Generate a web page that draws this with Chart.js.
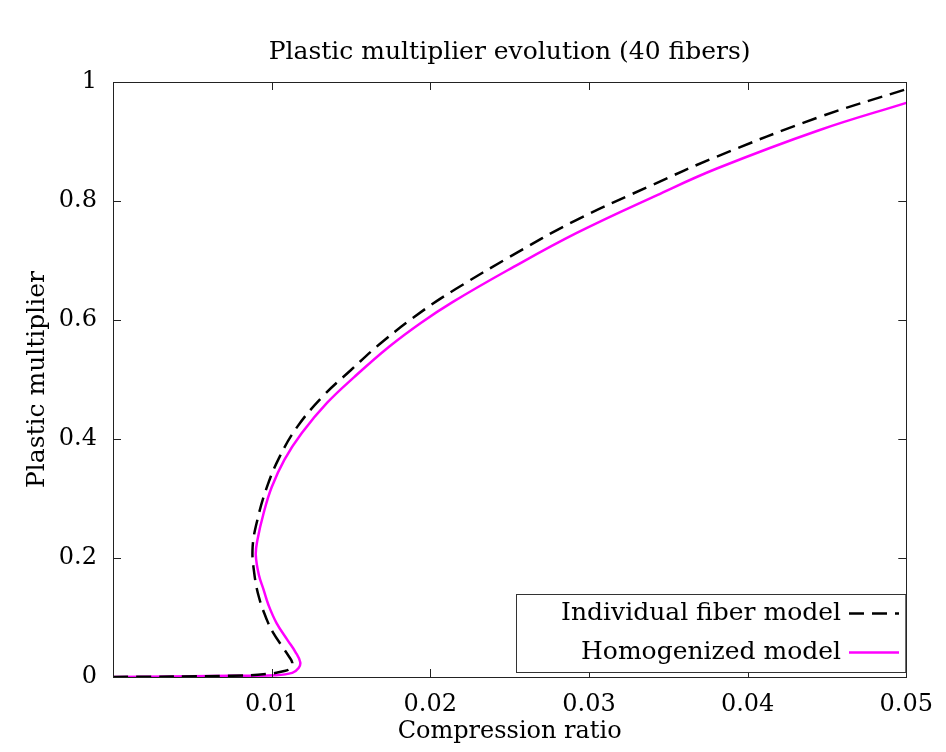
<!DOCTYPE html>
<html lang="en">
<head>
    <meta charset="UTF-8">
    <title>Plastic multiplier evolution</title>
    <script src="https://cdn.jsdelivr.net/npm/chart.js"></script>
    <style>
        html, body { margin: 0; padding: 0; background: #fff; }
        #wrap { width: 946px; height: 752px; }
    </style>
</head>
<body>
    <div id="wrap"><canvas id="plasticChart"></canvas></div>

    <script>
        // Curva del modelo de fibras individuales (punteada negra)
        const fiberX = [0, 0.0074, 0.0097, 0.0108, 0.0112, 0.0113, 0.0111, 0.0107, 0.0101, 0.0097, 0.0092, 0.0089, 0.0088, 0.0091,
                        0.0097, 0.0105, 0.0116, 0.0132, 0.0150, 0.0171, 0.0196, 0.0216, 0.0250, 0.0292, 0.0340, 0.0380, 0.0445, 0.0500];
        const fiberY = [0, 0.002, 0.005, 0.010, 0.015, 0.024, 0.034, 0.050, 0.074, 0.096, 0.134, 0.175, 0.218, 0.264,
                        0.319, 0.370, 0.420, 0.471, 0.516, 0.566, 0.617, 0.652, 0.706, 0.768, 0.827, 0.874, 0.941, 0.988];

        // Curva del modelo homogeneizado (magenta)
        const homogX = [0, 0.0074, 0.0102, 0.0113, 0.0117, 0.0118, 0.0115, 0.0110, 0.0103, 0.0098, 0.0095, 0.0092, 0.0090, 0.0091, 0.0095,
                        0.0100, 0.0108, 0.0119, 0.0135, 0.0152, 0.0174, 0.0194, 0.0214, 0.0249, 0.0292, 0.0343, 0.0381, 0.0445, 0.0500];
        const homogY = [0, 0.002, 0.003, 0.007, 0.015, 0.025, 0.042, 0.062, 0.091, 0.121, 0.146, 0.171, 0.205, 0.230, 0.276,
                        0.319, 0.365, 0.410, 0.461, 0.504, 0.555, 0.595, 0.630, 0.684, 0.746, 0.810, 0.855, 0.919, 0.965];

        const xTicks = [0.01, 0.02, 0.03, 0.04, 0.05];
        const yTicks = [0, 0.2, 0.4, 0.6, 0.8, 1];

        const FONT = "'DejaVu Serif', serif";
        const toPoints = (xs, ys) => xs.map((x, i) => ({ x: x, y: ys[i] }));

        // marco, ticks hacia adentro y leyenda dentro del area
        const framePlugin = {
            id: 'frame',
            afterDraw(chart) {
                const ctx = chart.ctx;
                const a = chart.chartArea;
                const xs = chart.scales.x, ys = chart.scales.y;
                const tl = 8;
                ctx.save();
                ctx.strokeStyle = '#222';
                ctx.lineWidth = 1;
                ctx.beginPath();
                xs.ticks.forEach(t => {
                    const px = Math.round(xs.getPixelForValue(t.value)) + 0.5;
                    ctx.moveTo(px, a.bottom); ctx.lineTo(px, a.bottom - tl);
                    ctx.moveTo(px, a.top); ctx.lineTo(px, a.top + tl);
                });
                ys.ticks.forEach(t => {
                    const py = Math.round(ys.getPixelForValue(t.value)) + 0.5;
                    ctx.moveTo(a.left, py); ctx.lineTo(a.left + tl, py);
                    ctx.moveTo(a.right, py); ctx.lineTo(a.right - tl, py);
                });
                ctx.stroke();
                ctx.strokeRect(Math.round(a.left) + 0.5, Math.round(a.top) + 0.5,
                               Math.round(a.right - a.left), Math.round(a.bottom - a.top));

                // leyenda
                const bx = 516.5, by = 594.5, bw = a.right - 516 - 1, bh = 78;
                ctx.fillStyle = '#fff';
                ctx.fillRect(bx, by, bw, bh);
                ctx.strokeStyle = '#333';
                ctx.strokeRect(bx, by, bw, bh);
                ctx.font = '25px ' + FONT;
                ctx.textAlign = 'right';
                ctx.textBaseline = 'middle';
                chart.data.datasets.forEach((ds, i) => {
                    const cy = by + 19 + i * 39;
                    ctx.fillStyle = '#000';
                    ctx.fillText(ds.label, 841, cy);
                    ctx.strokeStyle = ds.borderColor;
                    ctx.lineWidth = ds.borderWidth;
                    ctx.setLineDash(ds.borderDash || []);
                    ctx.beginPath();
                    ctx.moveTo(849, cy); ctx.lineTo(899, cy);
                    ctx.stroke();
                    ctx.setLineDash([]);
                });
                ctx.restore();
            }
        };

        const ctx = document.getElementById('plasticChart').getContext('2d');
        new Chart(ctx, {
            type: 'scatter',
            data: {
                datasets: [{
                    label: 'Individual fiber model',
                    data: toPoints(fiberX, fiberY),
                    showLine: true,
                    borderColor: '#000',
                    borderWidth: 2.5,
                    borderDash: [15, 8],
                    pointRadius: 0,
                    tension: 0.4
                }, {
                    label: 'Homogenized model',
                    data: toPoints(homogX, homogY),
                    showLine: true,
                    borderColor: '#f0f',
                    borderWidth: 2.5,
                    pointRadius: 0,
                    tension: 0.4
                }]
            },
            options: {
                responsive: true,
                maintainAspectRatio: false,
                animation: false,
                layout: { padding: { left: 0, right: 38, top: 0, bottom: 0 } },
                plugins: {
                    legend: { display: false },
                    tooltip: { enabled: false },
                    title: {
                        display: true,
                        fullSize: false, // centrado sobre el area del grafico
                        text: 'Plastic multiplier evolution (40 fibers)',
                        color: '#000',
                        font: { family: FONT, size: 25, weight: 'normal' },
                        padding: { top: 37, bottom: 15 }
                    }
                },
                scales: {
                    x: {
                        type: 'linear',
                        min: 0, max: 0.05,
                        afterFit: s => { s.height = 75; },
                        afterBuildTicks: s => { s.ticks = xTicks.map(v => ({ value: v })); },
                        grid: { display: false, drawTicks: false },
                        border: { display: false },
                        ticks: {
                            color: '#000', padding: 13,
                            font: { family: FONT, size: 24 },
                            callback: v => v.toFixed(2)
                        },
                        title: {
                            display: true, text: 'Compression ratio', color: '#000',
                            font: { family: FONT, size: 24 },
                            padding: { top: 0, bottom: 5.6 }
                        }
                    },
                    y: {
                        type: 'linear',
                        min: 0, max: 1,
                        afterFit: s => { s.width = 113; },
                        afterBuildTicks: s => { s.ticks = yTicks.map(v => ({ value: v })); },
                        grid: { display: false, drawTicks: false },
                        border: { display: false },
                        ticks: {
                            color: '#000', padding: 16,
                            font: { family: FONT, size: 24 },
                            callback: v => String(v)
                        },
                        title: {
                            display: true, text: 'Plastic multiplier', color: '#000',
                            font: { family: FONT, size: 25 },
                            padding: { top: 22, bottom: 0 }
                        }
                    }
                }
            },
            plugins: [framePlugin]
        });
    </script>
</body>
</html>
